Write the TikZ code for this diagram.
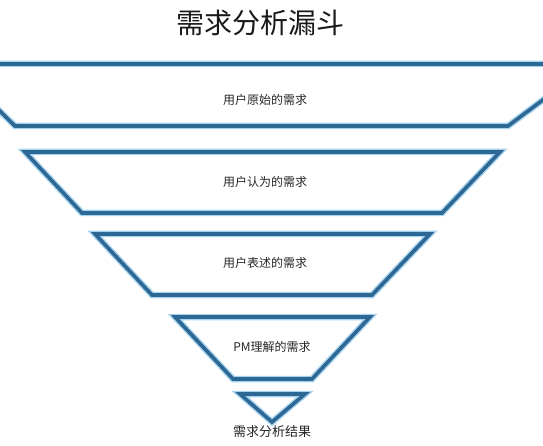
\documentclass[tikz,border=0pt]{standalone}
\usepackage{fontspec}
\newfontfamily\cjk{Noto Sans CJK SC}
\definecolor{funnelblue}{HTML}{2D6794}
\definecolor{glowblue}{HTML}{A8D3EE}
\begin{document}
\begin{tikzpicture}[x=1pt,y=-1pt,
  glow/.style={draw=glowblue,line width=6.5pt,line join=miter},
  edge/.style={draw=funnelblue,line width=3.6pt,line join=miter},
  lbl/.style={font=\cjk\fontsize{12}{14}\selectfont,text=black!85,inner sep=0pt},
  ttl/.style={font=\cjk\fontsize{28}{32}\selectfont,text=black!90,inner sep=0pt}]
\useasboundingbox (0,0) rectangle (543,446);
\fill[white] (0,0) rectangle (543,446);
\begin{scope}
\clip (0,0) rectangle (543,446);
% layer 1
\path[glow] (-48,64) -- (591,64) -- (508,126) -- (15,126) -- cycle;
\path[edge] (-48,64) -- (591,64) -- (508,126) -- (15,126) -- cycle;
% layer 2
\path[glow] (25,152) -- (500,152) -- (442,213) -- (82,213) -- cycle;
\path[edge] (25,152) -- (500,152) -- (442,213) -- (82,213) -- cycle;
% layer 3
\path[glow] (95,234) -- (430,234) -- (372,295) -- (152,295) -- cycle;
\path[edge] (95,234) -- (430,234) -- (372,295) -- (152,295) -- cycle;
% layer 4
\path[glow] (175,317) -- (370,317) -- (312,379) -- (233,379) -- cycle;
\path[edge] (175,317) -- (370,317) -- (312,379) -- (233,379) -- cycle;
% layer 5
\path[glow] (240,394) -- (305,394) -- (272,422) -- cycle;
\path[edge] (240,394) -- (305,394) -- (272,422) -- cycle;
\end{scope}
\node[ttl] (title) at (260,23) {需求分析漏斗};
\node[lbl] (l1) at (265,100) {用户原始的需求};
\node[lbl] (l2) at (265,182) {用户认为的需求};
\node[lbl] (l3) at (265,263) {用户表述的需求};
\node[lbl] (l4) at (272,347) {PM理解的需求};
\node[lbl,font=\cjk\fontsize{13}{15}\selectfont] (l5) at (272,432) {需求分析结果};
\end{tikzpicture}
\end{document}
